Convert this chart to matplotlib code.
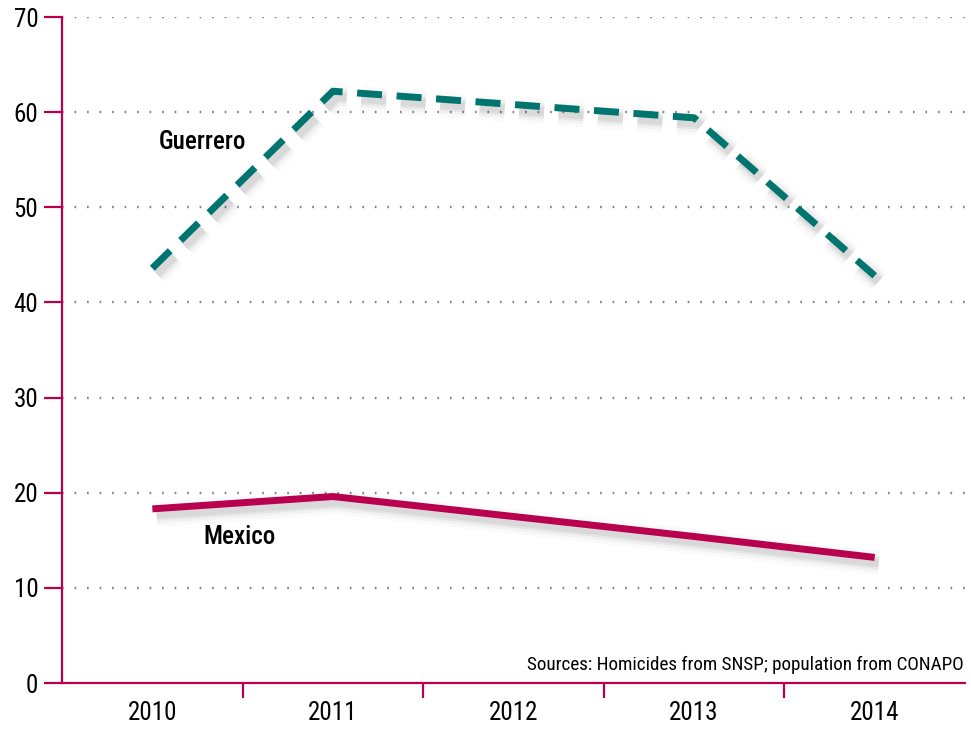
import matplotlib
matplotlib.use("Agg")
import matplotlib.pyplot as plt
import matplotlib.patheffects as pe

plt.rcParams['font.family'] = ['Roboto Condensed', 'DejaVu Sans Condensed',
                               'Liberation Sans Narrow', 'Roboto', 'DejaVu Sans']

years = ['2010', '2011', '2012', '2013', '2014']
guerrero = [43.6, 62.2, 60.8, 59.4, 42.8]
mexico = [18.3, 19.6, 17.5, 15.4, 13.2]

red = '#b8004f'
teal = '#00756f'

fig = plt.figure(figsize=(9.71, 7.33), dpi=100)
ax = fig.add_axes([0.0639, 0.0682, 0.9299, 0.9086])

x = range(len(years))
# soft drop shadow built from a few wide, faint strokes
shadow = [pe.Stroke(offset=(3, -4), linewidth=18, foreground='k', alpha=0.02),
          pe.Stroke(offset=(3, -4), linewidth=13, foreground='k', alpha=0.03),
          pe.Stroke(offset=(3, -4), linewidth=9, foreground='k', alpha=0.05),
          pe.Stroke(offset=(3, -4), linewidth=6, foreground='k', alpha=0.05),
          pe.Normal()]

ax.plot(x, guerrero, color=teal, lw=5, dashes=(3.6, 2.1), solid_capstyle='butt',
        path_effects=shadow, zorder=3)
ax.plot(x, mexico, color=red, lw=5, solid_capstyle='butt', path_effects=shadow, zorder=3)

ax.text(0.28, 56.9, 'Guerrero', fontsize=18, ha='center', va='center', fontweight='medium')
ax.text(0.48, 15.3, 'Mexico', fontsize=18, ha='center', va='center', fontweight='medium')
ax.text(4.49, 1.9, 'Sources: Homicides from SNSP; population from CONAPO',
        fontsize=13.8, ha='right', va='center')

ax.set_xlim(-0.5, 4.5)
ax.set_ylim(0, 70)
ax.set_yticks(range(0, 71, 10))
ax.set_xticks(list(x))
ax.set_xticklabels(years)
ax.set_xticks([0.5, 1.5, 2.5, 3.5], minor=True)

for yv in range(10, 71, 10):
    ax.axhline(yv, color='#808080', lw=1.7, dashes=(0.7, 4.6), zorder=1)

for s in ['top', 'right']:
    ax.spines[s].set_visible(False)
for s in ['left', 'bottom']:
    ax.spines[s].set_color(red)
    ax.spines[s].set_linewidth(1.6)

ax.tick_params(axis='y', length=13, width=1.6, color=red, labelsize=18, pad=4)
ax.tick_params(axis='x', which='major', length=0, labelsize=18, pad=13)
ax.tick_params(axis='x', which='minor', length=11, width=1.6, color=red)

fig.savefig('out.png', dpi=100)
